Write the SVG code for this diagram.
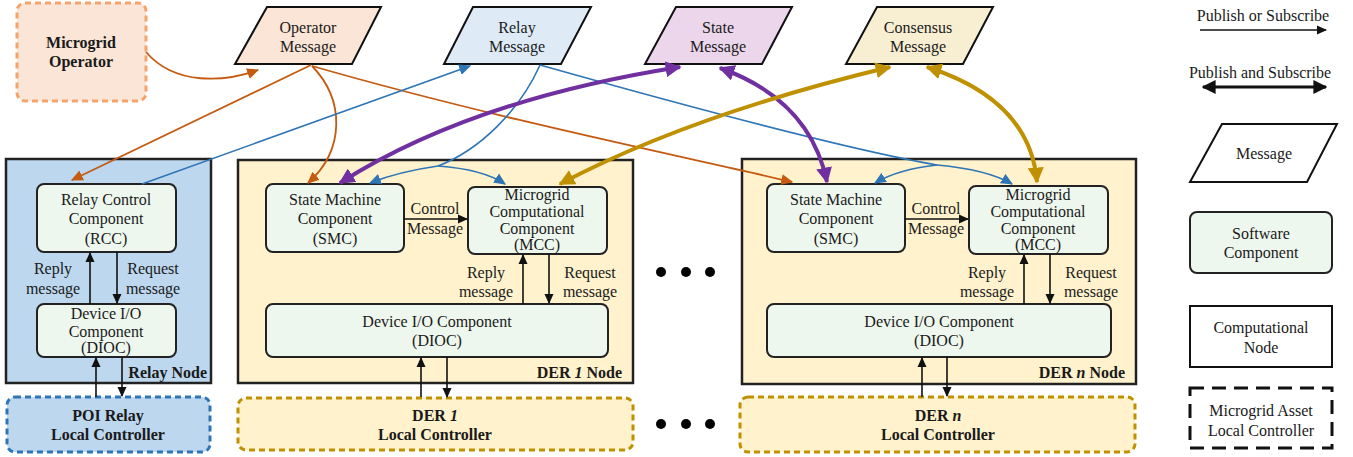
<svg xmlns="http://www.w3.org/2000/svg" width="1353" height="457" viewBox="0 0 1353 457">
<defs>
<style>
text{font-family:"Liberation Serif","Times New Roman",serif;font-size:16px;fill:#1a1a1a;text-anchor:middle;dominant-baseline:central}
.b{font-weight:bold}
.r{text-anchor:end}
.comp{fill:#eef7ee;stroke:#222;stroke-width:2}
.msg{stroke:#111;stroke-width:2}
.node{stroke:#222;stroke-width:2.5}
.lc{stroke-width:3;stroke-dasharray:6 4}
.ko{fill:none;stroke:#111;stroke-width:1.6}
.or{fill:none;stroke:#c55a11;stroke-width:1.8}
.bl{fill:none;stroke:#2e75b6;stroke-width:1.6}
.pu{fill:none;stroke:#7030a0;stroke-width:4}
.go{fill:none;stroke:#bf9000;stroke-width:4}
</style>
<marker id="ak" viewBox="0 0 10 10" refX="9" refY="5" markerWidth="10" markerHeight="10" markerUnits="userSpaceOnUse" orient="auto"><path d="M0,0.5L10,5L0,9.5z" fill="#111"/></marker>
<marker id="ao" viewBox="0 0 10 10" refX="9" refY="5" markerWidth="12" markerHeight="12" markerUnits="userSpaceOnUse" orient="auto"><path d="M0,0.5L10,5L0,9.5z" fill="#c55a11"/></marker>
<marker id="ab" viewBox="0 0 10 10" refX="9" refY="5" markerWidth="12" markerHeight="12" markerUnits="userSpaceOnUse" orient="auto"><path d="M0,0.5L10,5L0,9.5z" fill="#2e75b6"/></marker>
<marker id="ap" viewBox="0 0 10 10" refX="9" refY="5" markerWidth="16" markerHeight="16" markerUnits="userSpaceOnUse" orient="auto-start-reverse"><path d="M0,0L10,5L0,10z" fill="#7030a0"/></marker>
<marker id="ag" viewBox="0 0 10 10" refX="9" refY="5" markerWidth="16" markerHeight="16" markerUnits="userSpaceOnUse" orient="auto-start-reverse"><path d="M0,0L10,5L0,10z" fill="#bf9000"/></marker>
<marker id="aK" viewBox="0 0 10 10" refX="9" refY="5" markerWidth="14" markerHeight="14" markerUnits="userSpaceOnUse" orient="auto-start-reverse"><path d="M0,0L10,5L0,10z" fill="#111"/></marker>
</defs>

<g id="microgrid-operator">
<rect x="17" y="3" width="129" height="98" rx="8" fill="#fbe5d6" stroke="#f4a46c" class="lc"/>
<text x="81" y="42" class="b">Microgrid</text>
<text x="81" y="61" class="b">Operator</text>
</g>

<g id="operator-message">
<polygon points="267,7 381,7 352,64 235,64" fill="#fbe5d6" class="msg"/>
<text x="308" y="27">Operator</text>
<text x="308" y="46">Message</text>
</g>
<g id="relay-message">
<polygon points="473,7 591,7 561,64 444,64" fill="#deebf7" class="msg"/>
<text x="517" y="27">Relay</text>
<text x="517" y="46">Message</text>
</g>
<g id="state-message">
<polygon points="676,7 792,7 762,64 645,64" fill="#ecd6ec" class="msg"/>
<text x="718" y="27">State</text>
<text x="718" y="46">Message</text>
</g>
<g id="consensus-message">
<polygon points="877,7 993,7 963,64 846,64" fill="#f8efd3" class="msg"/>
<text x="918" y="27">Consensus</text>
<text x="918" y="46">Message</text>
</g>

<g id="relay-node">
<rect x="6" y="159" width="205" height="224" fill="#bdd7ee" class="node"/>
<rect x="37" y="184" width="139" height="68" rx="7" class="comp"/>
<text x="106" y="199">Relay Control</text>
<text x="106" y="218">Component</text>
<text x="106" y="238">(RCC)</text>
<rect x="37" y="304" width="139" height="53" rx="7" class="comp"/>
<text x="106" y="313">Device I/O</text>
<text x="106" y="331">Component</text>
<text x="106" y="347">(DIOC)</text>
<text x="53" y="268">Reply</text>
<text x="53" y="288">message</text>
<text x="153" y="268">Request</text>
<text x="153" y="288">message</text>
<text x="207" y="372" class="b r">Relay Node</text>
</g>

<g id="poi-relay-lc">
<rect x="7" y="397" width="203" height="55" rx="8" fill="#bdd7ee" stroke="#2e75b6" class="lc"/>
<text x="108" y="415" class="b">POI Relay</text>
<text x="108" y="434" class="b">Local Controller</text>
</g>

<g id="der1-node">
<rect x="238" y="160" width="395" height="223" fill="#fff2cc" class="node"/>
<rect x="266" y="184" width="138" height="68" rx="7" class="comp"/>
<text x="335" y="199">State Machine</text>
<text x="335" y="218">Component</text>
<text x="335" y="238">(SMC)</text>
<rect x="468" y="187" width="139" height="67" rx="7" class="comp"/>
<text x="537" y="194">Microgrid</text>
<text x="537" y="211">Computational</text>
<text x="537" y="228">Component</text>
<text x="537" y="244">(MCC)</text>
<text x="435" y="208">Control</text>
<text x="435" y="228">Message</text>
<rect x="266" y="304" width="342" height="53" rx="7" class="comp"/>
<text x="437" y="321">Device I/O Component</text>
<text x="437" y="340">(DIOC)</text>
<text x="486" y="272">Reply</text>
<text x="486" y="291">message</text>
<text x="590" y="272">Request</text>
<text x="590" y="291">message</text>
<text x="622" y="372" class="b r">DER <tspan font-style="italic">1</tspan> Node</text>
</g>

<g id="der1-lc">
<rect x="238" y="398" width="395" height="52" rx="8" fill="#fff2cc" stroke="#bf9000" class="lc"/>
<text x="435" y="415" class="b">DER <tspan font-style="italic">1</tspan></text>
<text x="435" y="434" class="b">Local Controller</text>
</g>

<g id="dern-node">
<rect x="742" y="159" width="394" height="225" fill="#fff2cc" class="node"/>
<rect x="767" y="184" width="138" height="68" rx="7" class="comp"/>
<text x="836" y="199">State Machine</text>
<text x="836" y="218">Component</text>
<text x="836" y="238">(SMC)</text>
<rect x="969" y="186" width="139" height="68" rx="7" class="comp"/>
<text x="1038" y="194">Microgrid</text>
<text x="1038" y="211">Computational</text>
<text x="1038" y="228">Component</text>
<text x="1038" y="244">(MCC)</text>
<text x="936" y="208">Control</text>
<text x="936" y="228">Message</text>
<rect x="767" y="304" width="344" height="53" rx="7" class="comp"/>
<text x="939" y="321">Device I/O Component</text>
<text x="939" y="340">(DIOC)</text>
<text x="987" y="272">Reply</text>
<text x="987" y="291">message</text>
<text x="1091" y="272">Request</text>
<text x="1091" y="291">message</text>
<text x="1125" y="372" class="b r">DER <tspan font-style="italic">n</tspan> Node</text>
</g>

<g id="dern-lc">
<rect x="740" y="397" width="395" height="55" rx="8" fill="#fff2cc" stroke="#bf9000" class="lc"/>
<text x="938" y="415" class="b">DER <tspan font-style="italic">n</tspan></text>
<text x="938" y="434" class="b">Local Controller</text>
</g>

<g id="ellipsis" fill="#000">
<circle cx="661" cy="272" r="5"/><circle cx="686" cy="272" r="5"/><circle cx="710" cy="272" r="5"/>
<circle cx="661" cy="424" r="5"/><circle cx="686" cy="424" r="5"/><circle cx="710" cy="424" r="5"/>
</g>

<g id="connectors">
<!-- internal black arrows -->
<line x1="90" y1="304" x2="90" y2="253" class="ko" marker-end="url(#ak)"/>
<line x1="117" y1="252" x2="117" y2="303" class="ko" marker-end="url(#ak)"/>
<line x1="96" y1="397" x2="96" y2="358" class="ko" marker-end="url(#ak)"/>
<line x1="122" y1="357" x2="122" y2="396" class="ko" marker-end="url(#ak)"/>
<line x1="404" y1="219" x2="467" y2="219" class="ko" marker-end="url(#ak)"/>
<line x1="523" y1="304" x2="523" y2="255" class="ko" marker-end="url(#ak)"/>
<line x1="549" y1="254" x2="549" y2="303" class="ko" marker-end="url(#ak)"/>
<line x1="421" y1="397" x2="421" y2="358" class="ko" marker-end="url(#ak)"/>
<line x1="447" y1="357" x2="447" y2="397" class="ko" marker-end="url(#ak)"/>
<line x1="905" y1="219" x2="968" y2="219" class="ko" marker-end="url(#ak)"/>
<line x1="1024" y1="304" x2="1024" y2="255" class="ko" marker-end="url(#ak)"/>
<line x1="1050" y1="254" x2="1050" y2="303" class="ko" marker-end="url(#ak)"/>
<line x1="922" y1="397" x2="922" y2="358" class="ko" marker-end="url(#ak)"/>
<line x1="947" y1="357" x2="947" y2="396" class="ko" marker-end="url(#ak)"/>
<!-- orange -->
<path d="M146,52 C175,86 225,82 258,70" class="or" marker-end="url(#ao)"/>
<path d="M311,65 L72,180" class="or" marker-end="url(#ao)"/>
<path d="M312,66 C345,100 345,150 308,183" class="or" marker-end="url(#ao)"/>
<path d="M312,66 C500,120 700,160 792,182" class="or" marker-end="url(#ao)"/>
<!-- blue -->
<path d="M142,184 L470,66" class="bl" marker-end="url(#ab)"/>
<path d="M540,65 C520,110 480,150 438,166" class="bl"/>
<path d="M438,166 C410,170 390,175 370,183" class="bl" marker-end="url(#ab)"/>
<path d="M438,166 C465,168 490,174 505,184" class="bl" marker-end="url(#ab)"/>
<path d="M540,65 C700,110 850,150 937,165" class="bl"/>
<path d="M937,165 C910,168 890,174 875,183" class="bl" marker-end="url(#ab)"/>
<path d="M937,165 C970,168 995,174 1012,184" class="bl" marker-end="url(#ab)"/>
<!-- purple -->
<path d="M340,183 Q470,100 680,67" class="pu" marker-start="url(#ap)" marker-end="url(#ap)"/>
<path d="M720,68 Q810,100 827,182" class="pu" marker-start="url(#ap)" marker-end="url(#ap)"/>
<!-- gold -->
<path d="M560,184 Q690,115 890,67" class="go" marker-start="url(#ag)" marker-end="url(#ag)"/>
<path d="M927,67 Q1030,100 1037,182" class="go" marker-start="url(#ag)" marker-end="url(#ag)"/>
</g>

<g id="legend">
<text x="1263" y="15">Publish or Subscribe</text>
<line x1="1200" y1="30" x2="1326" y2="30" class="ko" marker-end="url(#ak)"/>
<text x="1260" y="72">Publish and Subscribe</text>
<line x1="1203" y1="87" x2="1326" y2="87" stroke="#111" stroke-width="3" marker-start="url(#aK)" marker-end="url(#aK)"/>
<polygon points="1222,124 1337,124 1307,182 1190,182" fill="#fff" class="msg"/>
<text x="1264" y="153">Message</text>
<rect x="1190" y="212" width="142" height="61" rx="7" class="comp"/>
<text x="1261" y="233">Software</text>
<text x="1261" y="252">Component</text>
<rect x="1190" y="306" width="142" height="61" fill="#fff" stroke="#111" stroke-width="2"/>
<text x="1261" y="327">Computational</text>
<text x="1261" y="347">Node</text>
<rect x="1190" y="388" width="142" height="60" fill="#fff" stroke="#111" stroke-width="3" stroke-dasharray="14 8"/>
<text x="1261" y="410">Microgrid Asset</text>
<text x="1261" y="430">Local Controller</text>
</g>
</svg>
